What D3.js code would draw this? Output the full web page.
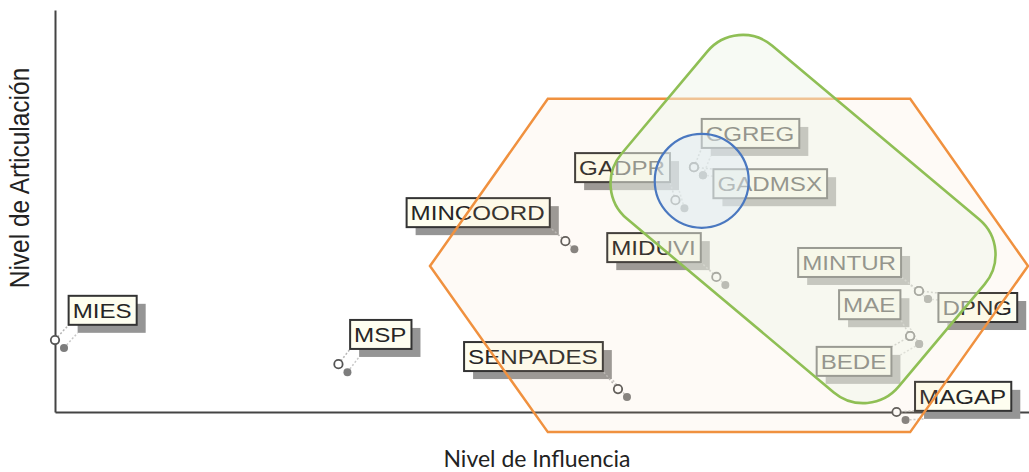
<!DOCTYPE html>
<html>
<head>
<meta charset="utf-8">
<script src="https://cdn.jsdelivr.net/npm/d3@7"></script>
<style>
  body { margin: 0; background: #fff; }
  svg { display: block; }
</style>
</head>
<body>
<script>
// actores: influencia (x) vs articulacion (y)
const actors = ['MIES', 'MSP', 'MINCOORD', 'SENPADES', 'GADPR', 'CGREG', 'GADMSX',
  'MIDUVI', 'MINTUR', 'MAE', 'DPNG', 'BEDE', 'MAGAP'];
const influence = [0.0, 2.91, 5.24, 5.78, 6.37, 6.56, 6.56, 6.79, 8.87, 8.78, 8.87, 8.78, 8.64];
const articulation = [1.79, 1.19, 4.25, 0.57, 5.27, 6.09, 6.09, 3.36, 3.01, 1.89, 3.01, 1.89, 0.0];
// where each label box (top-left corner) sits, same units
const labelX = [0.14, 3.03, 3.61, 4.20, 5.34, 6.64, 6.76, 5.67, 7.63, 8.05, 9.07, 7.82, 8.83];
const labelY = [2.89, 2.29, 5.32, 1.74, 6.44, 7.29, 6.04, 4.45, 4.08, 3.03, 2.96, 1.62, 0.75];

// groups drawn over the map
const hexGroup = [[3.85, 3.63], [5.06, 7.79], [8.78, 7.79], [9.99, 3.63], [8.78, -0.5], [5.06, -0.5]];
const greenGroup = { x: 7.68, y: 4.8 };
const blueGroup = { x: 6.64, y: 5.75 };

const xTitle = 'Nivel de Influencia';
const yTitle = 'Nivel de Articulación';

const svgWidth = 1029;
const svgHeight = 472;
const margin = { left: 55, right: 0, top: 10, bottom: 60 };
const width = svgWidth - margin.left - margin.right;
const height = svgHeight - margin.top - margin.bottom;
const stretch = 1.15;
const shadow = { dx: 9, dy: 8 };

const svg = d3.select('body').append('svg')
  .attr('width', svgWidth)
  .attr('height', svgHeight)
  .append('g')
  .attr('transform', `translate(${margin.left}, ${margin.top})`);

const xScale = d3.scaleLinear().domain([0, 10]).range([0, width]);
const yScale = d3.scaleLinear().domain([0, 10]).range([height, 0]);

// axes (no ticks, just the lines)
svg.append('g')
  .attr('transform', `translate(0, ${height})`)
  .call(d3.axisBottom(xScale).tickValues([]).tickSizeOuter(0))
  .select('.domain').attr('stroke', '#444').attr('stroke-width', 2);
svg.append('g')
  .call(d3.axisLeft(yScale).tickValues([]).tickSizeOuter(0))
  .select('.domain').attr('stroke', '#444').attr('stroke-width', 2);

svg.append('text')
  .text(xTitle)
  .attr('x', 482)
  .attr('y', height + 55)
  .attr('text-anchor', 'middle')
  .attr('font-family', 'Lato, "Open Sans", sans-serif')
  .attr('font-size', 23)
  .attr('fill', '#222');

svg.append('text')
  .text(yTitle)
  .attr('transform', `translate(-26, ${168}) scale(${stretch}, 1) rotate(-90)`)
  .attr('text-anchor', 'middle')
  .attr('font-family', '"Liberation Sans", Arial, sans-serif')
  .attr('font-size', 24.5)
  .attr('fill', '#222');

// build label data
const nodes = actors.map((name, i) => ({
  name,
  px: xScale(influence[i]),
  py: yScale(articulation[i]),
  bx: xScale(labelX[i]),
  by: yScale(labelY[i]),
}));

const labelLayer = svg.append('g');

// measure text first
nodes.forEach((d) => {
  const t = labelLayer.append('text')
    .text(d.name)
    .attr('font-family', '"Liberation Sans", Arial, sans-serif')
    .attr('font-size', 21);
  d.bw = t.node().getComputedTextLength() * stretch + 9;
  d.bh = 29;
  t.remove();
  // closest point of the box to the marker
  d.tx = Math.max(d.bx, Math.min(d.px, d.bx + d.bw));
  d.ty = Math.max(d.by, Math.min(d.py, d.by + d.bh));
});

// shadows
labelLayer.selectAll('rect.shadow')
  .data(nodes)
  .enter()
  .append('rect')
  .attr('class', 'shadow')
  .attr('x', d => d.bx + shadow.dx)
  .attr('y', d => d.by + shadow.dy)
  .attr('width', d => d.bw)
  .attr('height', d => d.bh)
  .attr('fill', '#959595');

labelLayer.selectAll('line.leaderShadow')
  .data(nodes)
  .enter()
  .append('line')
  .attr('x1', d => d.px + shadow.dx)
  .attr('y1', d => d.py + shadow.dy)
  .attr('x2', d => d.tx + shadow.dx)
  .attr('y2', d => d.ty + shadow.dy)
  .attr('stroke', '#c8c8c8')
  .attr('stroke-width', 1.5)
  .attr('stroke-dasharray', '2,2');

labelLayer.selectAll('circle.dotShadow')
  .data(nodes)
  .enter()
  .append('circle')
  .attr('cx', d => d.px + shadow.dx)
  .attr('cy', d => d.py + shadow.dy)
  .attr('r', 4)
  .attr('fill', '#7d7d7d');

labelLayer.selectAll('line.leader')
  .data(nodes)
  .enter()
  .append('line')
  .attr('x1', d => d.px)
  .attr('y1', d => d.py)
  .attr('x2', d => d.tx)
  .attr('y2', d => d.ty)
  .attr('stroke', '#b5b5b5')
  .attr('stroke-width', 1.5)
  .attr('stroke-dasharray', '2,2');

labelLayer.selectAll('circle.dot')
  .data(nodes)
  .enter()
  .append('circle')
  .attr('cx', d => d.px)
  .attr('cy', d => d.py)
  .attr('r', 4.2)
  .attr('fill', '#fff')
  .attr('stroke', '#555')
  .attr('stroke-width', 1.8);

labelLayer.selectAll('rect.box')
  .data(nodes)
  .enter()
  .append('rect')
  .attr('x', d => d.bx)
  .attr('y', d => d.by)
  .attr('width', d => d.bw)
  .attr('height', d => d.bh)
  .attr('fill', '#fefef0')
  .attr('stroke', '#333')
  .attr('stroke-width', 2);

labelLayer.selectAll('text.name')
  .data(nodes)
  .enter()
  .append('text')
  .text(d => d.name)
  .attr('transform', d => `translate(${d.bx + 4}, ${d.by + 22}) scale(${stretch}, 1)`)
  .attr('font-family', '"Liberation Sans", Arial, sans-serif')
  .attr('font-size', 21)
  .attr('fill', '#262626');

// group outlines on top
svg.append('path')
  .attr('d', d3.line().x(d => xScale(d[0])).y(d => yScale(d[1])).curve(d3.curveLinearClosed)(hexGroup))
  .attr('fill', 'rgba(245, 200, 160, 0.09)')
  .attr('stroke', '#f0913f')
  .attr('stroke-width', 2.5);

const gw = 362;
const gh = 226;
svg.append('rect')
  .attr('x', -gw / 2)
  .attr('y', -gh / 2)
  .attr('width', gw)
  .attr('height', gh)
  .attr('rx', 46)
  .attr('transform', `translate(${xScale(greenGroup.x)}, ${yScale(greenGroup.y)}) rotate(40)`)
  .attr('fill', 'rgba(240, 245, 233, 0.5)')
  .attr('stroke', '#8fbf55')
  .attr('stroke-width', 2.6);

svg.append('circle')
  .attr('cx', xScale(blueGroup.x))
  .attr('cy', yScale(blueGroup.y))
  .attr('r', 47)
  .attr('fill', 'rgba(220, 232, 245, 0.45)')
  .attr('stroke', '#4a78c0')
  .attr('stroke-width', 2.2);
</script>
</body>
</html>
